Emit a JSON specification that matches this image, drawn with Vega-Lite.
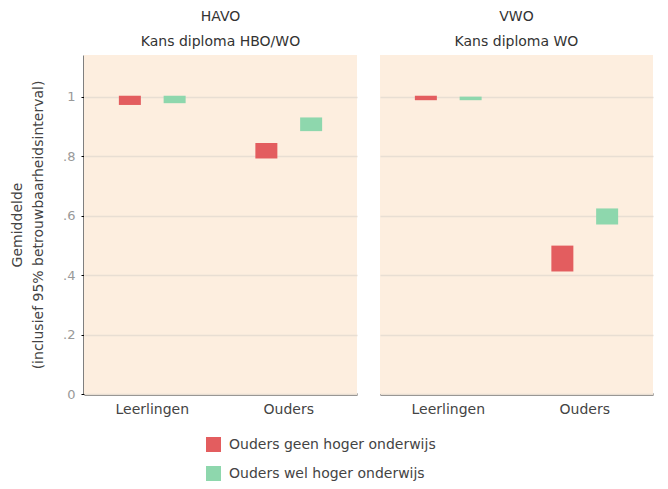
{
  "$schema": "https://vega.github.io/schema/vega-lite/v6.json",
  "background": "white",
  "padding": {"left": 10, "top": 10, "right": 5, "bottom": 5},
  "config": {
    "font": "DejaVu Sans",
    "view": {"fill": "#fdeedf", "stroke": null}
  },
  "data": {
    "values": [
      {"panel": "HAVO|Kans diploma HBO/WO", "groep": "Leerlingen", "ouders": "Ouders geen hoger onderwijs", "low": 0.972, "high": 1.003},
      {"panel": "HAVO|Kans diploma HBO/WO", "groep": "Leerlingen", "ouders": "Ouders wel hoger onderwijs", "low": 0.978, "high": 1.003},
      {"panel": "HAVO|Kans diploma HBO/WO", "groep": "Ouders", "ouders": "Ouders geen hoger onderwijs", "low": 0.792, "high": 0.844},
      {"panel": "HAVO|Kans diploma HBO/WO", "groep": "Ouders", "ouders": "Ouders wel hoger onderwijs", "low": 0.884, "high": 0.930},
      {"panel": "VWO|Kans diploma WO", "groep": "Leerlingen", "ouders": "Ouders geen hoger onderwijs", "low": 0.988, "high": 1.003},
      {"panel": "VWO|Kans diploma WO", "groep": "Leerlingen", "ouders": "Ouders wel hoger onderwijs", "low": 0.988, "high": 1.0},
      {"panel": "VWO|Kans diploma WO", "groep": "Ouders", "ouders": "Ouders geen hoger onderwijs", "low": 0.412, "high": 0.499},
      {"panel": "VWO|Kans diploma WO", "groep": "Ouders", "ouders": "Ouders wel hoger onderwijs", "low": 0.570, "high": 0.624}
    ]
  },
  "spacing": 23,
  "facet": {
    "column": {
      "field": "panel",
      "type": "nominal",
      "sort": ["HAVO|Kans diploma HBO/WO", "VWO|Kans diploma WO"],
      "title": null,
      "header": {
        "labelExpr": "split(datum.value, '|')",
        "labelFontSize": 14,
        "labelColor": "#333333",
        "labelLineHeight": 25,
        "labelPadding": 6
      }
    }
  },
  "spec": {
    "width": 273,
    "height": 339,
    "mark": {"type": "bar", "width": 22},
    "encoding": {
      "x": {
        "field": "groep",
        "type": "nominal",
        "scale": {"paddingInner": 0, "paddingOuter": 0},
        "axis": {
          "title": null,
          "labelAngle": 0,
          "ticks": false,
          "domainColor": "#000000",
          "domainWidth": 2,
          "labelFontSize": 14,
          "labelColor": "#444444",
          "labelPadding": 8
        }
      },
      "xOffset": {
        "field": "ouders",
        "type": "nominal",
        "scale": {"paddingInner": 0.511, "paddingOuter": 0.78}
      },
      "y": {
        "field": "low",
        "type": "quantitative",
        "scale": {"domain": [0, 1.14], "nice": false, "zero": true},
        "axis": {
          "values": [0, 0.2, 0.4, 0.6, 0.8, 1],
          "labelExpr": "datum.value == 0 ? '0' : datum.value == 1 ? '1' : replace(format(datum.value, '.1f'), '0.', '.')",
          "title": ["Gemiddelde", "(inclusief 95% betrouwbaarheidsinterval)"],
          "titleFontSize": 14,
          "titleFontWeight": "normal",
          "titleColor": "#444444",
          "titleLineHeight": 21,
          "titlePadding": 17,
          "labelFontSize": 13,
          "labelColor": "#999999",
          "labelPadding": 6,
          "domainColor": "#000000",
          "domainWidth": 2,
          "tickColor": "#000000",
          "tickSize": 3,
          "grid": true,
          "gridColor": "#e8ded3",
          "gridWidth": 1.5
        }
      },
      "y2": {"field": "high"},
      "color": {
        "field": "ouders",
        "type": "nominal",
        "scale": {"domain": ["Ouders geen hoger onderwijs", "Ouders wel hoger onderwijs"], "range": ["#e35d5f", "#8ed7ad"]},
        "legend": {
          "title": null,
          "orient": "none",
          "legendX": 122,
          "legendY": 382,
          "direction": "vertical",
          "symbolType": "square",
          "symbolSize": 225,
          "symbolStrokeWidth": 0,
          "symbolOpacity": 1,
          "labelFontSize": 14,
          "labelLimit": 0,
          "labelColor": "#444444",
          "rowPadding": 14,
          "labelOffset": 8
        }
      }
    }
  }
}
